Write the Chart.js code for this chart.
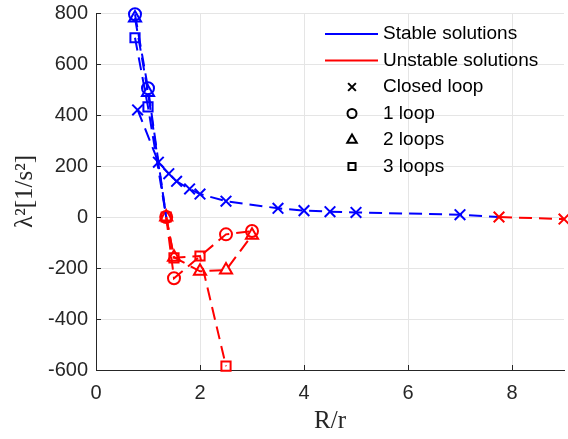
<!DOCTYPE html>
<html>
<head>
<meta charset="utf-8">
<script src="https://cdn.jsdelivr.net/npm/chart.js@4.4.0/dist/chart.umd.min.js"></script>
<style>
  html, body { margin: 0; padding: 0; background: #fff; }
  #wrap { width: 568px; height: 439px; }
</style>
</head>
<body>
<div id="wrap"><canvas id="chart" width="568" height="439"></canvas></div>
<script>
// values (R/r on x, lambda^2 on y)
const closedX = [0.8, 1.2, 1.4, 1.55, 1.8, 2.0, 2.5, 3.5, 4.0, 4.5, 5.0, 7.0, 7.75, 9.0];
const closedY = [420, 215, 170, 140, 110, 90, 62, 34, 25, 21, 18, 9, 0, -8];
const loop1X = [0.75, 1.0, 1.35, 1.5, 2.5, 3.0];
const loop1Y = [795, 505, 0, -240, -68, -55];
const loop2X = [0.75, 1.0, 1.35, 1.5, 2.0, 2.5, 3.0];
const loop2Y = [780, 488, 0, -158, -213, -208, -72];
const loop3X = [0.75, 1.0, 1.35, 1.5, 2.0, 2.5];
const loop3Y = [703, 432, 0, -160, -153, -585];

const xTicks = [0, 2, 4, 6, 8];
const yTicks = [-600, -400, -200, 0, 200, 400, 600, 800];

const legendLabels = ["Stable solutions", "Unstable solutions", "Closed loop", "1 loop", "2 loops", "3 loops"];
const legendMarkers = ["crossRot", "circle", "triangle", "rect"];
const legendMarkerSize = [5.5, 4.5, 5.5, 5];

const STABLE = "#0000ff";
const UNSTABLE = "#ff0000";
const AXIS = "#262626";
const TICK_FONT = { family: "'Liberation Sans', Arial, sans-serif", size: 20 };
const TITLE_FONT = { family: "'Liberation Serif', 'Times New Roman', serif", size: 25 };

function toPoints(xs, ys) {
  return xs.map((x, i) => ({ x: x, y: ys[i] }));
}

// lambda^2 > 0 is stable (blue), everything from the zero crossing on is red
function series(label, xs, ys, style, radius) {
  return {
    label: label,
    data: toPoints(xs, ys),
    showLine: true,
    borderWidth: 2,
    borderDash: [13, 7],
    borderColor: STABLE,
    segment: {
      borderColor: (ctx) => (ctx.p0.parsed.y > 0 ? STABLE : UNSTABLE),
    },
    pointStyle: style,
    pointRadius: radius,
    pointHoverRadius: radius,
    pointBorderWidth: 2,
    pointBackgroundColor: "rgba(0,0,0,0)",
    pointBorderColor: (ctx) => (ctx.parsed && ctx.parsed.y > 0 ? STABLE : UNSTABLE),
    clip: false,
  };
}

/**
 * Legend drawn inside the plot area, like the reference
 */
const insideLegend = {
  id: "insideLegend",
  afterDraw(chart) {
    const ctx = chart.ctx;
    const lineX0 = 325, lineX1 = 378, markX = 352, textX = 383;
    const rowY = 34, rowStep = 26.5;
    ctx.save();
    ctx.font = "19px 'Liberation Sans', Arial, sans-serif";
    ctx.textBaseline = "middle";
    legendLabels.forEach((label, i) => {
      const y = rowY + i * rowStep;
      ctx.setLineDash([]);
      if (i < 2) {
        ctx.strokeStyle = i === 0 ? STABLE : UNSTABLE;
        ctx.lineWidth = 2;
        ctx.beginPath();
        ctx.moveTo(lineX0, y);
        ctx.lineTo(lineX1, y);
        ctx.stroke();
      } else {
        ctx.strokeStyle = "#000";
        ctx.fillStyle = "rgba(0,0,0,0)";
        ctx.lineWidth = 2;
        Chart.helpers.drawPoint(ctx, {
          pointStyle: legendMarkers[i - 2],
          radius: legendMarkerSize[i - 2],
          borderWidth: 2,
          rotation: 0,
        }, markX, y);
      }
      ctx.fillStyle = "#000";
      ctx.fillText(label, textX, y);
    });
    ctx.restore();
  },
};

/**
 * Small inward tick marks on the left and bottom axes
 */
const innerTicks = {
  id: "innerTicks",
  afterDraw(chart) {
    const ctx = chart.ctx;
    const area = chart.chartArea;
    const xs = chart.scales.x, ys = chart.scales.y;
    ctx.save();
    ctx.strokeStyle = AXIS;
    ctx.lineWidth = 1;
    ctx.beginPath();
    xTicks.forEach((v) => {
      const px = Math.round(xs.getPixelForValue(v)) + 0.5;
      ctx.moveTo(px, area.bottom);
      ctx.lineTo(px, area.bottom - 5);
    });
    yTicks.forEach((v) => {
      const py = Math.round(ys.getPixelForValue(v)) + 0.5;
      ctx.moveTo(area.left, py);
      ctx.lineTo(area.left + 5, py);
    });
    ctx.stroke();
    ctx.restore();
  },
};

new Chart(document.getElementById("chart").getContext("2d"), {
  type: "scatter",
  data: {
    datasets: [
      series("Closed loop", closedX, closedY, "crossRot", 7.5),
      series("1 loop", loop1X, loop1Y, "circle", 6),
      series("2 loops", loop2X, loop2Y, "triangle", 7),
      series("3 loops", loop3X, loop3Y, "rect", 6.5),
    ],
  },
  options: {
    responsive: false,
    animation: false,
    layout: { autoPadding: false, padding: { top: 13, right: 4, left: 0, bottom: 0 } },
    plugins: {
      legend: { display: false },
      tooltip: { enabled: false },
    },
    scales: {
      x: {
        type: "linear",
        min: 0,
        max: 9,
        afterBuildTicks: (s) => { s.ticks = xTicks.map((v) => ({ value: v })); },
        afterFit: (s) => { s.height = 69; },
        ticks: { color: AXIS, font: TICK_FONT, padding: 0, maxRotation: 0 },
        grid: { color: "#e5e5e5", drawTicks: true, tickLength: 11, tickColor: "rgba(0,0,0,0)" },
        border: { display: true, color: AXIS, width: 1 },
        title: {
          display: true,
          text: "R/r",
          color: AXIS,
          font: TITLE_FONT,
          padding: { top: 0, bottom: 3 },
        },
      },
      y: {
        type: "linear",
        min: -600,
        max: 800,
        afterBuildTicks: (s) => { s.ticks = yTicks.map((v) => ({ value: v })); },
        afterFit: (s) => { s.width = 96; },
        ticks: { color: AXIS, font: TICK_FONT, padding: 0 },
        grid: { color: "#e5e5e5", drawTicks: true, tickLength: 8, tickColor: "rgba(0,0,0,0)" },
        border: { display: true, color: AXIS, width: 1 },
        title: {
          display: true,
          text: "λ²[1/s²]",
          color: AXIS,
          font: TITLE_FONT,
          padding: { top: 10, bottom: 0 },
        },
      },
    },
  },
  plugins: [insideLegend, innerTicks],
});
</script>
</body>
</html>
